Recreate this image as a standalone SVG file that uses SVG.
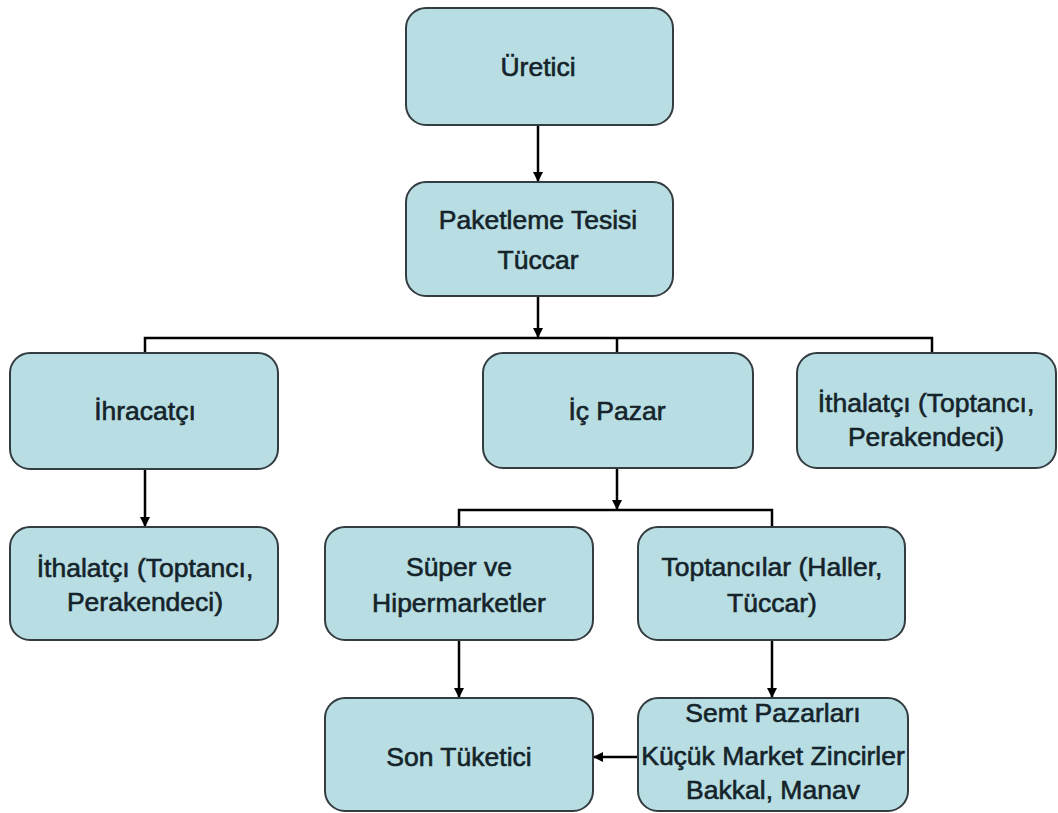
<svg xmlns="http://www.w3.org/2000/svg" width="1058" height="813" viewBox="0 0 1058 813">
<defs>
<style>
.box{fill:#b8dee3;stroke:#333c40;stroke-width:2}
.t{font-family:"Liberation Sans",Arial,sans-serif;font-size:26.5px;fill:#15232a;stroke:#15232a;stroke-width:0.6;text-anchor:middle}
.c{stroke:#000;stroke-width:2.5;fill:none}
</style>
<marker id="ah" viewBox="0 0 10 10" refX="10" refY="5" markerWidth="4" markerHeight="4" orient="auto" markerUnits="strokeWidth">
<path d="M0,0 L10,5 L0,10 z" fill="#000"/>
</marker>
</defs>
<rect width="1058" height="813" fill="#fff"/>
<g id="connectors">
<path class="c" d="M538,125 V182" marker-end="url(#ah)"/>
<path class="c" d="M538,296 V338" marker-end="url(#ah)"/>
<path class="c" d="M145,353 V338 H932 V353"/>
<path class="c" d="M617,338 V353"/>
<path class="c" d="M145,469 V527" marker-end="url(#ah)"/>
<path class="c" d="M617,468 V510" marker-end="url(#ah)"/>
<path class="c" d="M459,527 V510 H772 V527"/>
<path class="c" d="M459,640 V698" marker-end="url(#ah)"/>
<path class="c" d="M772,640 V698" marker-end="url(#ah)"/>
<path class="c" d="M638,757 H593" marker-end="url(#ah)"/>
</g>
<g id="uretici"><rect class="box" x="406" y="8" width="267" height="117" rx="20"/><text class="t" x="538" y="76">Üretici</text></g>
<g id="paketleme"><rect class="box" x="406" y="182" width="267" height="114" rx="20"/><text class="t" x="538" y="229">Paketleme Tesisi</text><text class="t" x="538" y="269">Tüccar</text></g>
<g id="ihracatci"><rect class="box" x="10" y="353" width="268" height="116" rx="20"/><text class="t" x="145" y="420">İhracatçı</text></g>
<g id="icpazar"><rect class="box" x="483" y="353" width="270" height="115" rx="20"/><text class="t" x="617" y="420">İç Pazar</text></g>
<g id="ithalatci-r"><rect class="box" x="797" y="353" width="259" height="115" rx="20"/><text class="t" x="926" y="412">İthalatçı (Toptancı,</text><text class="t" x="926" y="446">Perakendeci)</text></g>
<g id="ithalatci-l"><rect class="box" x="10" y="527" width="268" height="113" rx="20"/><text class="t" x="145" y="577">İthalatçı (Toptancı,</text><text class="t" x="145" y="611">Perakendeci)</text></g>
<g id="super"><rect class="box" x="325" y="527" width="268" height="113" rx="20"/><text class="t" x="459" y="576">Süper ve</text><text class="t" x="459" y="612">Hipermarketler</text></g>
<g id="toptancilar"><rect class="box" x="638" y="527" width="267" height="113" rx="20"/><text class="t" x="772" y="576">Toptancılar (Haller,</text><text class="t" x="772" y="612">Tüccar)</text></g>
<g id="sontuketici"><rect class="box" x="325" y="698" width="268" height="113" rx="20"/><text class="t" x="459" y="766">Son Tüketici</text></g>
<g id="semt"><rect class="box" x="638" y="698" width="270" height="113" rx="20"/><text class="t" x="773" y="722">Semt Pazarları</text><text class="t" x="773" y="765">Küçük Market Zincirler</text><text class="t" x="773" y="799">Bakkal, Manav</text></g>
</svg>
